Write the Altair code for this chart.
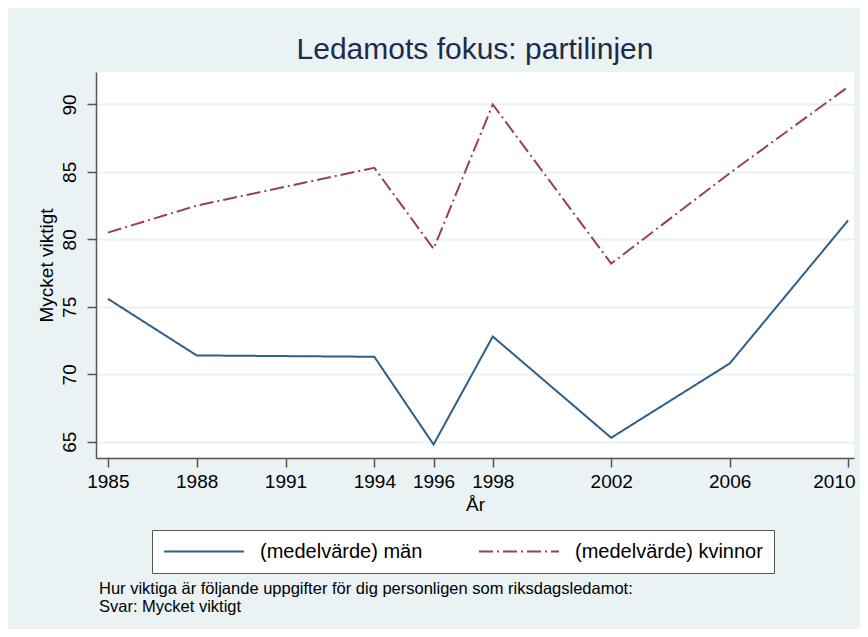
import altair as alt
import pandas as pd

years = [1985, 1988, 1994, 1996, 1998, 2002, 2006, 2010]
men = [75.6, 71.4, 71.3, 64.8, 72.8, 65.3, 70.8, 81.4]
women = [80.5, 82.5, 85.3, 79.3, 90.0, 78.2, 84.9, 91.3]
series_names = ["(medelvärde) män", "(medelvärde) kvinnor"]
series_colors = ["#2f5e86", "#984249"]
series_dash = [[1, 0], [14, 4, 2, 4]]
x_ticks = [1985, 1988, 1991, 1994, 1996, 1998, 2002, 2006, 2010]
y_ticks = [65, 70, 75, 80, 85, 90]
caption = ["Hur viktiga är följande uppgifter för dig personligen som riksdagsledamot:",
           "Svar: Mycket viktigt"]

rows = []
for name, vals in zip(series_names, [men, women]):
    for yr, v in zip(years, vals):
        rows.append({"År": yr, "värde": v, "serie": name})
df = pd.DataFrame(rows)

FONT = "Liberation Sans"
BG = "#eaf2f3"

lines = alt.Chart(df).mark_line(strokeWidth=2).encode(
    x=alt.X("År:Q",
            scale=alt.Scale(domain=[1984.6, 2010.2], nice=False, zero=False),
            axis=alt.Axis(values=x_ticks, format="d", title="År", grid=False,
                          tickSize=9, labelPadding=5, titlePadding=4,
                          labelFlush=6, labelFlushOffset=7,
                          labelFontSize=19, titleFontSize=19)),
    y=alt.Y("värde:Q",
            scale=alt.Scale(domain=[63.8, 92.4], nice=False, zero=False),
            axis=alt.Axis(values=y_ticks, title="Mycket viktigt", grid=True,
                          gridColor=BG, gridWidth=2,
                          tickSize=9, labelPadding=8, labelAngle=-90,
                          labelAlign="center", labelBaseline="bottom",
                          labelFontSize=19, titleFontSize=19, titlePadding=4)),
    color=alt.Color("serie:N",
                    scale=alt.Scale(domain=series_names, range=series_colors),
                    legend=alt.Legend(title=None, orient="none", legendX=56, legendY=458,
                                      direction="horizontal", fillColor="white",
                                      strokeColor="#555555", padding=11,
                                      symbolType="stroke", symbolSize=6400,
                                      clipHeight=21, labelLimit=400,
                                      symbolStrokeWidth=2, labelFontSize=20,
                                      labelOffset=15, columnPadding=55,
                                      labelFont=FONT, labelColor="black")),
    strokeDash=alt.StrokeDash("serie:N",
                              scale=alt.Scale(domain=series_names, range=series_dash),
                              legend=None),
    order=alt.Order("År:Q"),
)

cap = alt.Chart(pd.DataFrame({"t": [caption]})).mark_text(
    align="left", baseline="top", fontSize=16.5, font=FONT, color="black", lineHeight=18
).encode(text="t:N", x=alt.value(3), y=alt.value(509))

chart = alt.layer(lines, cap).properties(
    width=758, height=386,
    autosize=alt.AutoSizeParams(type="none"),
    padding={"left": 88, "top": 64, "right": 6, "bottom": 171},
    background=BG,
    title=alt.TitleParams("Ledamots fokus: partilinjen", fontSize=30, font=FONT,
                          fontWeight="normal", color="#1e2b4c", anchor="middle",
                          offset=7),
).configure_view(fill="white", stroke=None).configure_axis(
    labelFont=FONT, titleFont=FONT, labelColor="black", titleColor="black",
    domainColor="#555555", domainWidth=1.5, tickColor="#555555", tickWidth=1.5,
    titleFontWeight="normal",
)

chart.save("out.html", embed_options={"renderer": "svg", "actions": False})
